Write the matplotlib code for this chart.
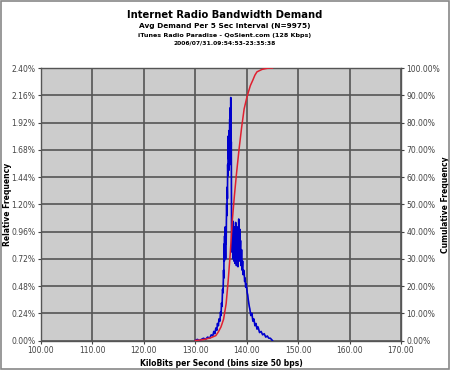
#Internet Radio Bandwidth Demand - relative and cumulative frequency

#Importing the Libraries
import numpy as np
import matplotlib
matplotlib.use('Agg')
import matplotlib.pyplot as plt
from matplotlib.ticker import FuncFormatter
from matplotlib.patches import Rectangle

#Data (kbps, percent)
rel_kbps = [130.0, 130.4, 130.8, 131.2, 131.6, 132.0, 132.4, 132.8, 133.1, 133.4,
            133.6, 133.8, 134.0, 134.2, 134.3, 134.5, 134.6, 134.8, 134.9, 135.0,
            135.1, 135.2, 135.3, 135.4, 135.5, 135.55, 135.6, 135.65, 135.7, 135.75,
            135.8, 135.85, 135.9, 135.95, 136.0, 136.05, 136.1, 136.15, 136.2, 136.25,
            136.3, 136.35, 136.4, 136.45, 136.5, 136.55, 136.6, 136.65, 136.7, 136.75,
            136.8, 136.85, 136.9, 136.95, 137.0, 137.05, 137.1, 137.15, 137.2, 137.25,
            137.3, 137.35, 137.4, 137.45, 137.5, 137.55, 137.6, 137.65, 137.7, 137.75,
            137.8, 137.85, 137.9, 137.95, 138.0, 138.05, 138.1, 138.15, 138.2, 138.25,
            138.3, 138.35, 138.4, 138.45, 138.5, 138.55, 138.6, 138.65, 138.7, 138.8,
            138.9, 139.0, 139.1, 139.2, 139.3, 139.4, 139.5, 139.6, 139.7, 139.8,
            139.9, 140.0, 140.1, 140.2, 140.3, 140.4, 140.5, 140.6, 140.8, 141.0,
            141.2, 141.4, 141.6, 141.8, 142.0, 142.2, 142.5, 142.8, 143.1, 143.4,
            143.7, 144.0, 144.3, 144.6, 145.0]
rel_freq = [0.00, 0.01, 0.00, 0.01, 0.02, 0.01, 0.03, 0.02, 0.05, 0.04,
            0.08, 0.06, 0.11, 0.09, 0.15, 0.13, 0.19, 0.17, 0.25, 0.22,
            0.33, 0.30, 0.45, 0.42, 0.62, 0.55, 0.85, 0.70, 0.92, 0.80,
            1.00, 0.88, 0.72, 0.95, 0.85, 1.05, 1.20, 1.10, 1.35, 1.25,
            1.55, 1.45, 1.80, 1.60, 1.72, 1.50, 1.85, 1.65, 1.95, 1.55,
            2.05, 1.70, 2.14, 1.60, 1.75, 1.00, 0.78, 1.02, 0.85, 0.98,
            0.72, 1.05, 0.80, 0.95, 0.70, 1.00, 0.82, 0.92, 0.68, 0.97,
            0.75, 1.04, 0.80, 0.90, 0.66, 0.96, 0.74, 1.00, 0.78, 0.93,
            0.65, 0.90, 0.72, 1.07, 0.80, 0.95, 0.70, 0.98, 0.75, 0.88,
            0.66, 0.80, 0.62, 0.70, 0.58, 0.62, 0.60, 0.52, 0.55, 0.47,
            0.50, 0.46, 0.42, 0.40, 0.36, 0.33, 0.30, 0.28, 0.22, 0.24,
            0.17, 0.19, 0.13, 0.15, 0.10, 0.12, 0.07, 0.08, 0.05, 0.06,
            0.03, 0.04, 0.02, 0.02, 0.00]

cum_kbps = [130.0, 131.0, 132.0, 133.0, 134.0, 134.5, 135.0, 135.5, 136.0, 136.4,
            136.8, 137.2, 137.6, 138.0, 138.5, 139.0, 139.5, 140.0, 140.3, 140.7,
            141.2, 141.6, 142.0, 143.0, 144.0, 144.5, 145.0]
cum_freq = [0.0, 0.2, 0.5, 1.0, 1.8, 3.2, 5.0, 7.8, 13.5, 22.0,
            32.0, 44.0, 53.0, 61.0, 70.0, 78.0, 85.0, 89.0, 91.0, 93.5,
            95.6, 97.4, 98.6, 99.5, 99.9, 100.0, 100.0]

xticks = np.arange(100, 171, 10)
left_ticks = np.arange(0, 2.41, 0.24)
right_ticks = np.arange(0, 101, 10)

#Figure
fig = plt.figure(figsize=(4.5, 3.7), dpi=100)
ax = fig.add_axes([0.0911, 0.0797, 0.8, 0.7365])
ax.set_facecolor('#cccccc')
ax.set_xlim(100, 170)
ax.set_ylim(0, 2.40)
ax.set_xticks(xticks)
ax.set_yticks(left_ticks)
ax.grid(True, color='#555555', linewidth=1.2)
ax.set_axisbelow(True)
ax.xaxis.set_major_formatter(FuncFormatter(lambda v, p: '%.2f' % v))
ax.yaxis.set_major_formatter(FuncFormatter(lambda v, p: '%.2f%%' % v))
ax.tick_params(labelsize=5.5, colors='#444444', length=2, width=0.8, pad=2)
for s in ax.spines.values():
    s.set_color('#555555')
    s.set_linewidth(1.0)

ax.plot(rel_kbps, rel_freq, color='#0000cc', linewidth=1.2, zorder=3)

ax2 = ax.twinx()
ax2.set_ylim(0, 100)
ax2.set_yticks(right_ticks)
ax2.yaxis.set_major_formatter(FuncFormatter(lambda v, p: '%.2f%%' % v))
ax2.tick_params(labelsize=5.5, colors='#444444', length=2, width=0.8, pad=2)
for s in ax2.spines.values():
    s.set_visible(False)
ax2.plot(cum_kbps, cum_freq, color='#e02030', linewidth=1.1, zorder=3)

#Labels
ax.set_xlabel('KiloBits per Second (bins size 50 bps)', fontsize=5.5, fontweight='bold')
ax.xaxis.set_label_coords(0.5, -0.068)
ax.set_ylabel('Relative Frequency', fontsize=5.5, fontweight='bold')
ax.yaxis.set_label_coords(-0.08, 0.5)
ax2.set_ylabel('Cumulative Frequency', fontsize=5.5, fontweight='bold', rotation=90)
ax2.yaxis.set_label_coords(1.11, 0.5)

#Titles
fig.text(0.5, 1 - 15.5 / 370, 'Internet Radio Bandwidth Demand', ha='center', va='center',
         fontsize=7.2, fontweight='bold')
fig.text(0.5, 1 - 25.7 / 370, 'Avg Demand Per 5 Sec Interval (N=9975)', ha='center', va='center',
         fontsize=5.3, fontweight='bold')
fig.text(0.5, 1 - 35.3 / 370, 'iTunes Radio Paradise - QoSient.com (128 Kbps)', ha='center', va='center',
         fontsize=4.6, fontweight='bold')
fig.text(0.5, 1 - 43.3 / 370, '2006/07/31.09:54:53-23:35:38', ha='center', va='center',
         fontsize=4.3, fontweight='bold')

#Frame around the image
fig.patches.append(Rectangle((0.002, 0.003), 0.995, 0.994, transform=fig.transFigure,
                             fill=False, edgecolor='#888888', linewidth=1.2))

plt.savefig('out.png', dpi=100)
